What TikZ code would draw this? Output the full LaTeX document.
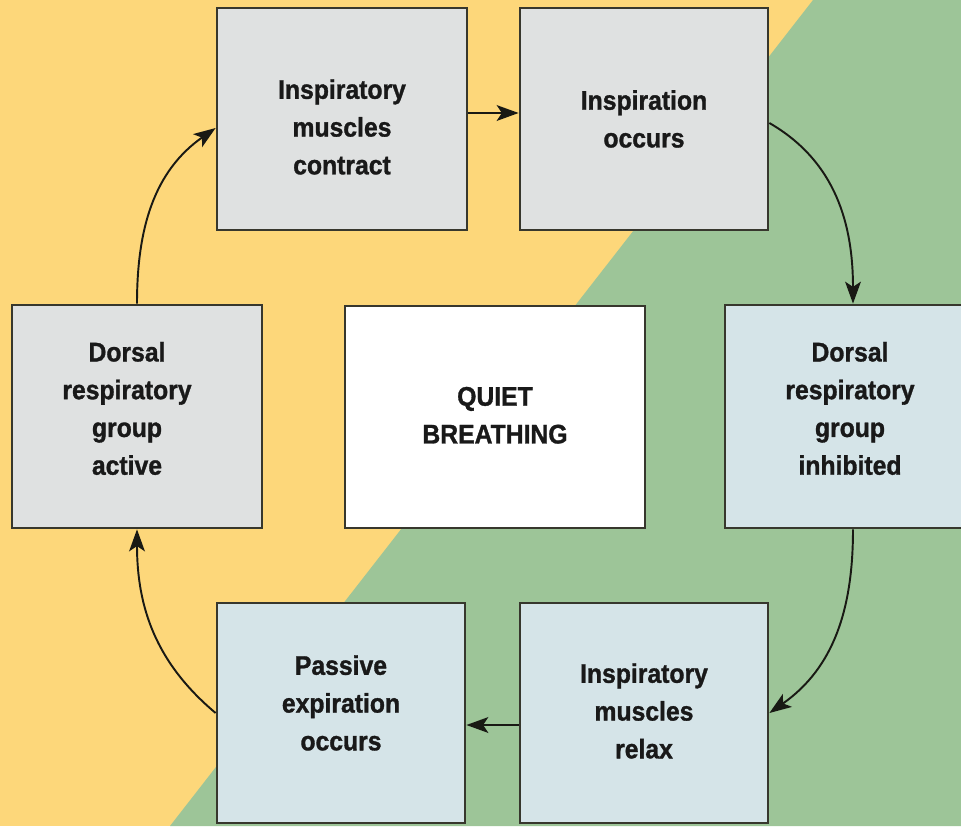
\documentclass[tikz,border=0pt]{standalone}
\usepackage{fontspec}
\setmainfont{Liberation Sans}[FakeStretch=0.92,BoldFeatures={FakeBold=1.2}]
\usetikzlibrary{arrows.meta}
\definecolor{yellowbg}{RGB}{253,215,122}
\definecolor{greenbg}{RGB}{157,197,152}
\definecolor{greybox}{RGB}{223,225,225}
\definecolor{bluebox}{RGB}{213,228,232}
\definecolor{edgecol}{RGB}{55,55,45}
\definecolor{arrcol}{RGB}{25,25,20}
\newcommand\btxt[3]{\raisebox{#2}[\height][\depth]{\begin{tabular}{@{}c@{}}#3\end{tabular}}\hspace*{#1}}
\tikzset{
  boxnode/.style={draw=edgecol, line width=1.6pt, rectangle, align=center,
    inner sep=0pt, font=\fontsize{15.3}{21.5}\selectfont\bfseries, text=black!90},
  greynode/.style={boxnode, fill=greybox},
  bluenode/.style={boxnode, fill=bluebox},
  flow/.style={draw=arrcol, line width=1.1pt, -{Stealth[length=12.5pt,width=9pt,inset=3pt]}}
}
\begin{document}
\begin{tikzpicture}[x=0.02cm,y=-0.02cm]
\useasboundingbox (0,0) rectangle (961,826);
\clip (0,0) rectangle (961,826);
\fill[yellowbg] (0,0) rectangle (961,826);
\fill[greenbg] (813,0) -- (961,0) -- (961,826) -- (170,826) -- cycle;

\node[greynode, minimum width=5cm, minimum height=4.44cm] (B1) at (342,119)
  {\btxt{0cm}{-0.2cm}{Inspiratory\\muscles\\contract}};
\node[greynode, minimum width=4.96cm, minimum height=4.44cm] (B2) at (644,119)
  {\btxt{0cm}{-0.04cm}{Inspiration\\occurs}};
\node[greynode, minimum width=5cm, minimum height=4.46cm] (B3) at (137,416.5)
  {\btxt{0.4cm}{0.12cm}{Dorsal\\respiratory\\group\\active}};
\node[boxnode, fill=white, minimum width=6cm, minimum height=4.44cm] (Q) at (495,417)
  {\btxt{0cm}{0cm}{QUIET\\BREATHING}};
\node[bluenode, minimum width=5cm, minimum height=4.46cm] (B4) at (850,416.5)
  {\btxt{0cm}{0.12cm}{Dorsal\\respiratory\\group\\inhibited}};
\node[bluenode, minimum width=4.96cm, minimum height=4.4cm] (B5) at (644,713)
  {\btxt{0cm}{0cm}{Inspiratory\\muscles\\relax}};
\node[bluenode, minimum width=4.96cm, minimum height=4.4cm] (B6) at (341,713)
  {\btxt{0cm}{0.16cm}{Passive\\expiration\\occurs}};

\draw[flow] ([yshift=0.12cm]B1.east) -- ([yshift=0.12cm]B2.west);
\draw[flow] ([yshift=-0.08cm]B2.east) to[out=-30,in=90] ([xshift=0.06cm]B4.north);
\draw[flow] ([xshift=0.06cm]B4.south) to[out=-90,in=35] (B5.east);
\draw[flow] ([yshift=-0.24cm]B5.west) -- ([yshift=-0.24cm]B6.east);
\draw[flow] (B6.west) to[out=140,in=-90] (B3.south);
\draw[flow] (B3.north) to[out=90,in=215] ([yshift=-0.18cm]B1.west);
\end{tikzpicture}
\end{document}
